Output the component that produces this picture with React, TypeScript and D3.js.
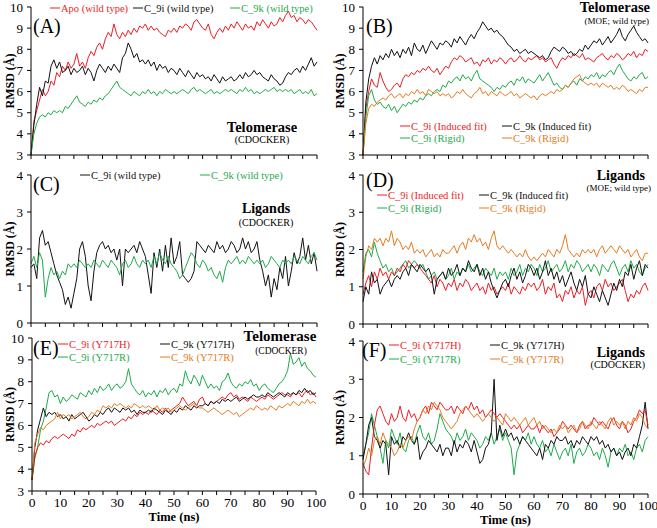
import * as d3 from 'd3';

// time axis, 1 ns sampling
const TIME_NS = d3.range(0, 101);

const RED = '#ee1c24';
const BLACK = '#111111';
const GREEN = '#1faa4c';
const ORANGE = '#e57c22';

// ---- (A) telomerase, CDOCKER, wild type ----
const A_APO = [
  3.0, 4.6, 5.1, 5.6, 6.1, 5.8, 6.0, 6.5, 6.3, 6.9,
  6.7, 7.2, 7.0, 7.4, 7.1, 7.3, 7.8, 7.2, 7.4, 7.1,
  7.6, 7.9, 7.7, 8.1, 8.3, 8.0, 8.5, 8.8, 8.6, 9.2,
  8.7, 8.5, 8.8, 8.6, 8.9, 8.7, 9.0, 8.8, 9.1, 9.0,
  9.2, 8.9, 9.1, 8.9, 9.0, 8.8, 8.7, 8.6, 8.9, 8.8,
  9.0, 8.8, 9.1, 9.0, 9.2, 9.1, 8.9, 9.3, 9.4, 9.2,
  9.0, 8.9, 9.2, 8.7, 8.5, 8.8, 9.0, 8.8, 9.1, 8.9,
  9.2, 9.0, 9.3, 9.1, 8.9, 9.2, 9.0, 9.1, 8.9, 9.3,
  9.1, 9.4, 9.2, 9.0, 9.3, 9.1, 9.2, 9.5, 9.3, 9.6,
  9.8, 9.5, 9.6, 9.3, 9.5, 9.4, 9.2, 9.4, 9.3, 9.1,
  8.9,
];
const A_9I = [
  3.0, 4.4, 5.4, 6.2, 5.8, 6.5, 6.4, 7.2, 7.5, 7.1,
  7.4, 6.9, 7.0, 7.2, 6.8, 7.1, 6.9, 7.0, 7.2, 6.8,
  7.1, 6.9, 6.5, 7.0, 7.3, 7.1, 6.9, 7.2, 7.0, 7.3,
  7.1, 6.9, 7.6, 7.8, 8.3, 8.0, 7.6, 7.8, 7.4, 7.5,
  7.3, 7.5, 7.2, 7.4, 7.0, 7.3, 7.1, 7.2, 6.9, 7.1,
  7.0, 6.8, 7.1, 6.9, 6.7, 7.0, 6.8, 6.6, 6.9, 6.7,
  6.8, 6.6, 6.7, 6.5, 6.8, 6.6, 6.4, 6.7, 6.5, 6.6,
  6.7, 6.5, 6.6, 6.8, 6.6, 6.9, 6.7, 6.8, 7.0, 6.8,
  6.9, 6.7, 6.6, 6.5, 6.8, 6.6, 6.5, 6.3, 6.4, 6.7,
  6.9, 6.8, 7.0, 7.1, 6.9, 7.2, 7.0, 7.3, 7.6, 7.2,
  7.4,
];
const A_9K = [
  3.0, 4.0, 4.5, 4.8, 4.9, 4.8, 5.0, 4.9, 5.1, 5.0,
  5.1, 5.0, 5.3, 5.2, 5.4, 5.6, 5.8, 5.5, 5.4, 5.3,
  5.5, 5.4, 5.6, 5.5, 5.7, 5.6, 5.8, 5.9, 6.1, 6.3,
  6.5, 6.2, 6.1, 6.0, 5.9, 5.8, 6.0, 5.9, 5.8, 6.0,
  5.9, 6.1, 5.9, 6.0, 5.8, 6.0, 5.9, 6.1, 6.0, 5.9,
  6.0, 5.9, 6.0, 6.1, 6.0, 5.9, 6.1, 6.2, 6.0, 6.1,
  6.0, 5.9, 6.0, 6.1, 5.9, 6.0, 5.9, 6.0, 6.1, 6.0,
  6.1, 6.0, 5.9, 6.1, 6.0, 6.2, 6.0, 6.1, 5.9, 6.0,
  5.9, 6.0, 6.1, 6.0, 6.1, 6.2, 6.0, 6.1, 6.0, 6.1,
  6.0, 6.1, 5.9, 6.0, 6.1, 5.9, 6.0, 5.9, 6.1, 5.8,
  5.9,
];

// ---- (B) telomerase, MOE, wild type ----
const B_9I_IF = [
  3.0, 5.2, 6.0, 6.6, 6.3, 6.2, 6.9, 6.5, 6.2, 6.0,
  6.1, 6.3, 6.4, 6.2, 6.6, 6.8, 6.7, 6.9, 6.8, 7.0,
  6.9, 7.1, 7.0, 7.2, 7.0, 6.9, 7.1, 6.8, 7.0, 7.2,
  7.1, 7.4, 7.6, 7.5, 7.7, 7.6, 7.4, 7.5, 7.6, 7.3,
  7.4, 7.2, 7.5, 7.4, 7.6, 7.3, 7.5, 7.4, 7.6, 7.5,
  7.3, 7.5, 7.6, 7.4, 7.5, 7.7, 7.5, 7.4, 7.6, 7.5,
  7.6, 7.7, 7.5, 7.6, 7.4, 7.5, 7.6, 7.3, 7.1, 7.4,
  7.6, 7.5, 7.7, 7.6, 7.8, 7.7, 7.6, 7.8, 7.5, 7.6,
  7.5, 7.4, 7.6, 7.7, 7.8, 7.6, 7.5, 7.7, 7.6, 7.8,
  7.7, 7.5, 7.6, 7.8, 7.7, 7.9, 7.6, 7.8, 7.7, 8.0,
  7.9,
];
const B_9K_IF = [
  3.0, 5.5, 6.6, 7.2, 7.6, 7.3, 7.7, 7.5, 7.8, 7.6,
  8.0, 7.7, 7.9, 7.6, 8.0, 7.8, 8.1, 7.7, 8.3, 8.0,
  7.9, 8.2, 7.8, 8.1, 8.4, 8.2, 8.0, 8.3, 8.2, 8.4,
  8.3, 8.1, 8.5, 8.3, 8.6, 8.4, 8.2, 8.5, 8.7, 8.5,
  8.8, 9.0, 9.3, 9.1, 8.9, 9.0, 8.8, 8.9, 8.7, 8.6,
  8.4, 8.2, 8.1, 7.9, 8.0, 7.8, 7.9, 8.0, 7.8, 7.9,
  7.8, 7.7, 7.6, 7.7, 7.5, 7.6, 7.9, 8.1, 8.0, 7.9,
  8.1, 8.0, 7.8, 7.9, 7.7, 7.8, 8.0, 7.9, 8.2, 8.0,
  8.2, 8.4, 8.3, 8.5, 8.2, 8.4, 8.6, 8.3, 8.5, 8.7,
  9.0, 8.6, 8.4, 8.7, 8.9, 9.1, 8.8, 8.6, 8.4, 8.5,
  8.3,
];
const B_9I_R = [
  3.0, 4.8, 5.8, 6.1, 5.6, 5.4, 5.5, 5.3, 5.2, 5.4,
  5.1, 5.3, 5.0, 5.2, 5.4, 5.3, 5.5, 5.4, 5.6, 5.5,
  5.7, 5.6, 5.8, 5.9, 5.8, 6.0, 6.1, 6.0, 6.3, 6.2,
  6.5, 6.4, 6.6, 6.7, 6.5, 6.8, 6.6, 6.7, 6.5, 6.8,
  7.0, 6.6, 6.5, 6.4, 6.3, 6.2, 6.0, 6.2, 6.1, 6.3,
  6.2, 6.4, 6.5, 6.3, 6.6, 6.5, 6.7, 6.4, 6.6, 6.5,
  6.4, 6.6, 6.8, 6.5, 6.7, 6.9, 6.6, 6.3, 6.4, 6.2,
  6.1, 6.3, 6.2, 6.4, 6.5, 6.3, 6.6, 6.5, 6.7, 6.6,
  6.8, 6.7, 6.9, 6.6, 6.8, 6.7, 6.9, 7.0, 6.8, 7.1,
  7.3, 7.0, 6.8, 6.6, 6.5, 6.7, 6.6, 6.8, 6.9, 6.6,
  6.7,
];
const B_9K_R = [
  3.0, 4.5, 5.2, 5.4, 5.3, 5.5, 5.6, 5.7, 5.6, 5.8,
  5.9, 5.7, 5.8, 5.9, 5.7, 5.9, 5.8, 6.0, 5.9, 6.1,
  5.9, 6.0, 5.8, 6.1, 6.0, 5.9, 6.0, 5.8, 5.9, 5.8,
  5.9, 5.7, 5.8, 6.0, 5.9, 6.1, 5.9, 5.8, 5.7, 5.9,
  6.0, 6.2, 5.9, 6.0, 5.8, 6.0, 5.9, 5.8, 6.0, 5.9,
  5.8, 5.9, 6.0, 5.8, 5.9, 5.7, 5.8, 5.9, 5.8, 5.7,
  5.8, 5.6, 5.8, 5.9, 5.8, 5.9, 6.0, 5.9, 6.1, 6.0,
  6.1, 6.3, 6.2, 6.4, 6.6, 6.7, 6.8, 6.5, 6.4, 6.3,
  6.4, 6.3, 6.4, 6.2, 6.4, 6.3, 6.2, 6.3, 6.1, 6.2,
  6.1, 6.3, 6.2, 6.0, 6.1, 6.0, 5.9, 6.1, 6.0, 6.2,
  6.2,
];

// ---- (C) ligands, CDOCKER, wild type ----
const C_9I = [
  1.5, 1.6, 1.2, 2.3, 2.5, 2.1, 2.2, 1.9, 1.6, 1.3,
  1.1, 0.9, 0.5, 0.7, 0.4, 0.8, 1.2, 2.0, 2.2, 1.8,
  1.0, 0.6, 1.4, 1.9, 2.1, 2.2, 2.0, 2.1, 1.9, 2.0,
  1.7, 2.0, 1.0, 2.0, 1.9, 2.0, 2.1, 1.9, 2.2, 2.0,
  1.8, 1.3, 0.8, 1.9, 1.5, 2.0, 1.4, 2.1, 1.5, 2.3,
  1.6, 1.8, 2.2, 1.3, 1.2, 1.1, 1.2, 1.4, 2.2, 2.1,
  2.0, 1.9, 2.1, 2.0, 1.9, 2.2, 2.0, 2.1, 1.9, 2.0,
  2.2, 2.1, 1.9, 2.0, 2.3, 2.0, 2.2, 1.9, 2.0, 2.2,
  1.7, 1.4, 1.0, 1.3, 0.7, 1.2, 0.9, 1.5, 1.2, 1.8,
  1.0, 1.4, 1.9, 1.6, 1.8, 2.3, 1.7, 2.1, 1.6, 1.9,
  1.4,
];
const C_9K = [
  1.6, 1.8, 1.5, 1.9, 1.7, 0.7, 1.2, 1.5, 1.3, 1.4,
  1.2, 1.4, 1.3, 1.6, 1.5, 1.6, 1.5, 1.7, 1.6, 1.5,
  1.6, 1.5, 1.7, 1.6, 1.5, 1.7, 1.6, 1.5, 1.7, 1.6,
  1.5, 1.3, 1.6, 1.7, 1.5, 1.6, 1.8, 1.6, 1.5, 1.7,
  1.6, 1.7, 1.5, 1.8, 1.6, 1.9, 1.7, 1.6, 1.8, 1.6,
  1.5, 1.4, 1.2, 1.3, 1.5, 1.7, 1.9, 1.8, 1.6, 1.5,
  1.7, 1.6, 1.4, 1.5, 1.3, 1.2, 1.4, 1.1, 1.5, 1.7,
  1.6, 1.7, 1.8, 1.6, 1.7, 1.6, 1.8, 1.7, 1.6, 1.7,
  1.6, 1.7, 1.5, 1.6, 1.8, 1.7, 1.6, 1.5, 1.7, 1.6,
  1.7, 1.6, 1.8, 1.7, 1.6, 1.8, 1.7, 1.6, 1.8, 1.9,
  1.7,
];

// ---- (D) ligands, MOE, wild type ----
const D_9I_IF = [
  0.8, 1.1, 1.3, 1.0, 1.4, 1.2, 1.5, 1.3, 1.4, 1.2,
  1.4, 1.3, 1.5, 1.4, 1.6, 1.5, 1.7, 1.6, 1.5, 1.6,
  1.5, 1.4, 1.3, 1.2, 1.1, 1.3, 1.0, 1.2, 1.1, 0.9,
  1.1, 1.0, 1.2, 0.9, 1.1, 1.0, 1.2, 1.1, 0.9, 1.0,
  1.1, 0.9, 1.0, 0.8, 1.1, 0.9, 1.0, 0.8, 0.9, 1.0,
  0.9, 1.1, 0.8, 1.0, 0.9, 0.8, 1.0, 0.9, 1.1, 1.0,
  1.1, 0.9, 1.0, 1.2, 0.8, 1.0, 0.9, 1.1, 0.7, 0.8,
  0.6, 0.9, 0.8, 1.0, 0.7, 0.9, 0.8, 1.0, 0.5, 0.8,
  0.9, 0.7, 1.0, 1.1, 0.9, 1.2, 1.0, 1.1, 0.9, 1.0,
  1.1, 1.2, 0.9, 0.6, 0.8, 0.7, 0.9, 0.8, 1.0, 1.1,
  0.9,
];
const D_9K_IF = [
  0.6, 1.0, 0.8, 1.4, 1.1, 1.2, 0.8, 1.0, 1.1, 1.2,
  1.0, 1.2, 1.3, 1.2, 1.4, 1.5, 1.3, 1.6, 1.5, 1.4,
  1.6, 1.5, 1.4, 1.5, 1.3, 0.8, 1.2, 1.3, 1.4, 1.2,
  1.5, 1.3, 1.4, 1.6, 1.3, 1.5, 1.4, 1.7, 1.5, 1.4,
  1.6, 1.3, 1.5, 1.2, 1.4, 1.1, 0.9, 0.7, 0.9, 1.1,
  1.2, 1.0, 1.3, 1.5, 1.2, 1.4, 1.1, 1.3, 1.6, 1.5,
  1.3, 1.5, 1.2, 1.4, 1.7, 1.3, 1.5, 1.2, 1.4, 1.1,
  1.3, 1.0, 1.2, 1.4, 1.1, 0.9, 1.2, 1.0, 1.3, 0.8,
  0.7, 1.0, 0.8, 0.6, 0.9, 0.7, 0.5, 0.8, 1.1, 0.9,
  1.2, 1.0, 1.4, 1.3, 1.6, 1.2, 1.5, 1.7, 1.3, 1.6,
  1.5,
];
const D_9I_R = [
  1.4, 1.9, 2.0, 1.8, 2.2, 1.9, 1.7, 1.5, 1.6, 1.4,
  1.5, 1.3, 1.4, 1.5, 1.6, 1.7, 1.5, 1.6, 1.7, 1.6,
  1.5, 1.6, 1.4, 1.2, 1.3, 1.4, 1.2, 1.3, 1.4, 1.2,
  1.3, 1.5, 1.2, 1.4, 1.3, 1.5, 1.4, 1.6, 1.4, 1.5,
  1.6, 1.4, 1.3, 1.5, 1.4, 1.3, 1.5, 1.2, 1.4, 1.3,
  1.4, 1.2, 1.5, 1.3, 1.4, 1.6, 1.3, 1.5, 1.4, 1.6,
  1.5, 1.3, 1.6, 1.4, 1.5, 1.7, 1.4, 1.5, 1.6, 1.4,
  1.5, 1.7, 1.4, 1.6, 1.5, 1.7, 1.6, 1.4, 1.5, 1.6,
  1.4, 1.6, 1.5, 1.3, 1.6, 1.5, 1.4, 1.6, 1.7, 1.5,
  1.3, 1.5, 1.6, 1.4, 1.7, 1.5, 1.6, 1.4, 1.3, 1.5,
  1.6,
];
const D_9K_R = [
  1.2, 1.8, 2.1, 2.0, 2.3, 2.2, 2.3, 2.1, 2.3, 2.2,
  2.5, 2.1, 2.3, 2.2, 2.0, 2.1, 2.0, 2.2, 1.9, 2.0,
  1.9, 2.0, 1.8, 1.9, 2.0, 1.8, 1.9, 1.8, 2.0, 1.9,
  1.9, 2.0, 2.1, 1.9, 2.1, 2.2, 2.0, 2.3, 2.2, 2.4,
  2.2, 2.3, 2.1, 2.2, 2.0, 2.3, 2.5, 2.1, 2.0, 2.1,
  2.0, 1.9, 2.0, 1.9, 1.8, 1.9, 1.8, 2.0, 1.8, 1.7,
  1.8, 1.7, 1.8, 1.9, 1.8, 2.0, 1.9, 1.8, 2.0, 1.9,
  2.1, 2.4, 2.0, 1.9, 1.8, 1.9, 1.8, 2.0, 1.9, 2.0,
  1.9, 2.0, 1.8, 2.0, 2.1, 1.9, 2.0, 2.1, 2.0, 1.9,
  2.1, 2.0, 1.9, 2.0, 1.8, 1.9, 2.0, 1.8, 1.7, 1.9,
  1.9,
];

// ---- (E) telomerase mutants, CDOCKER ----
const E_9I_H = [
  3.5, 4.6, 5.0, 5.2, 5.1, 5.3, 5.2, 5.4, 5.5, 5.4,
  5.5, 5.6, 5.5, 5.4, 5.6, 5.5, 5.8, 5.7, 5.9, 5.8,
  5.9, 6.0, 5.9, 6.1, 6.0, 6.1, 6.2, 6.1, 6.2, 6.0,
  6.1, 6.2, 6.3, 6.2, 6.4, 6.3, 6.5, 6.4, 6.6, 6.5,
  6.6, 6.5, 6.7, 6.6, 6.5, 6.7, 6.6, 6.8, 6.6, 6.7,
  6.8, 6.9, 7.0, 7.3, 7.1, 6.9, 7.0, 7.1, 6.9, 7.2,
  7.3, 7.0, 6.9, 7.1, 7.0, 7.1, 7.2, 7.3, 7.2, 7.4,
  7.5, 7.3, 7.4, 7.2, 7.3, 7.2, 7.1, 7.3, 7.2, 7.1,
  7.2, 7.3, 7.2, 7.4, 7.3, 7.2, 7.3, 7.4, 7.5, 7.4,
  7.4, 7.3, 7.5, 7.4, 7.5, 7.3, 7.5, 7.6, 7.4, 7.5,
  7.3,
];
const E_9K_H = [
  3.5, 5.0, 5.8, 6.3, 6.8, 6.4, 6.6, 6.5, 6.6, 6.4,
  6.5, 6.3, 6.4, 6.2, 6.5, 6.3, 6.4, 6.5, 6.6, 6.4,
  6.2, 6.3, 6.5, 6.4, 6.6, 6.5, 6.7, 6.8, 6.6, 6.8,
  6.7, 6.6, 6.8, 6.7, 6.8, 6.6, 6.7, 6.5, 6.7, 6.6,
  6.6, 6.7, 6.6, 6.8, 6.7, 6.6, 6.5, 6.7, 6.6, 6.5,
  6.7, 6.6, 6.8, 6.7, 6.9, 6.8, 6.7, 6.9, 6.8, 6.9,
  6.9, 7.0, 6.9, 7.1, 7.0, 7.1, 7.0, 7.2, 7.1, 7.2,
  7.1, 7.2, 7.3, 7.1, 7.2, 7.3, 7.2, 7.3, 7.4, 7.3,
  7.3, 7.4, 7.3, 7.5, 7.4, 7.3, 7.4, 7.5, 7.4, 7.3,
  7.5, 7.4, 7.5, 7.4, 7.6, 7.5, 7.7, 7.5, 7.6, 7.4,
  7.5,
];
const E_9I_R = [
  3.5, 4.5, 5.0, 5.8, 6.2, 6.8, 7.5, 7.6, 7.3, 7.4,
  7.0, 7.3, 7.1, 7.2, 7.4, 7.3, 7.2, 7.5, 7.4, 7.3,
  7.6, 7.4, 7.7, 7.5, 7.8, 7.6, 7.7, 7.9, 7.6, 7.8,
  7.9, 7.7, 7.8, 8.0, 8.6, 7.9, 7.7, 7.5, 7.4, 7.6,
  7.3, 7.5, 7.4, 7.6, 7.3, 7.6, 7.5, 7.7, 7.4, 7.6,
  7.7, 7.5, 7.9, 7.8, 8.5, 8.1, 7.9, 8.3, 8.1, 7.8,
  8.3, 8.0, 7.7, 7.9, 7.7, 7.8, 7.6, 8.0, 8.1, 8.4,
  8.0, 7.8, 7.7, 7.9, 7.8, 8.0, 7.9, 8.1, 7.8, 7.9,
  7.6, 7.8, 7.9, 7.7, 7.6, 7.5, 7.7, 7.9, 8.0, 8.2,
  8.5, 9.3, 8.8, 8.9, 9.1, 8.7, 8.9, 8.6, 8.5, 8.3,
  8.2,
];
const E_9K_R = [
  3.5, 5.2, 5.6, 5.9, 5.8, 6.0, 6.1, 6.2, 6.3, 6.6,
  6.3, 6.5, 6.4, 6.5, 6.3, 6.4, 6.5, 6.6, 6.4, 6.3,
  6.4, 6.6, 6.5, 6.7, 6.6, 6.9, 6.8, 6.9, 6.8, 7.0,
  6.9, 7.0, 6.9, 6.8, 6.9, 6.8, 7.0, 6.9, 6.8, 6.9,
  6.8, 6.9, 6.8, 6.7, 6.9, 6.7, 6.8, 6.7, 6.8, 6.6,
  6.7, 6.8, 6.9, 6.8, 6.7, 6.8, 6.9, 7.0, 6.9, 6.8,
  6.8, 6.7, 6.6, 6.7, 6.8, 6.7, 6.6, 6.5, 6.6, 6.7,
  6.6, 6.5, 6.6, 6.4, 6.5, 6.6, 6.7, 6.8, 6.7, 6.9,
  6.8, 6.7, 6.8, 6.7, 6.9, 6.8, 6.7, 6.9, 6.8, 6.9,
  7.0, 6.9, 7.1, 7.0, 6.9, 7.1, 7.0, 7.2, 7.0, 7.1,
  7.0,
];

// ---- (F) ligands in mutants, CDOCKER ----
const F_9I_H = [
  0.8, 0.6, 0.5, 1.2, 1.8, 2.2, 2.3, 2.1, 1.9, 1.8,
  2.1, 1.9, 2.0, 2.3, 2.0, 1.9, 2.2, 2.0, 2.1, 1.9,
  2.0, 2.2, 2.3, 2.1, 2.4, 2.3, 2.2, 2.4, 2.3, 2.2,
  2.2, 2.3, 2.1, 2.3, 2.2, 2.1, 2.3, 2.2, 2.4, 2.2,
  2.3, 2.1, 2.2, 2.0, 2.1, 2.2, 2.1, 2.0, 2.1, 2.0,
  1.9, 1.8, 1.7, 1.8, 1.7, 1.8, 1.6, 1.7, 1.8, 1.7,
  1.7, 1.8, 1.6, 1.8, 1.7, 1.6, 1.7, 1.5, 1.6, 1.7,
  1.9, 1.8, 1.7, 1.8, 1.7, 1.6, 1.8, 1.9, 1.7, 1.8,
  1.8, 2.0, 1.9, 1.8, 1.9, 1.8, 1.7, 1.9, 2.0, 1.8,
  1.7, 1.9, 1.8, 1.6, 1.7, 1.9, 2.0, 2.2, 2.1, 2.2,
  1.8,
];
const F_9K_H = [
  0.9, 1.3, 1.8, 2.0, 1.5, 1.4, 1.2, 1.4, 1.3, 0.5,
  1.5, 1.3, 1.4, 1.2, 1.5, 1.4, 1.6, 1.4, 1.3, 1.5,
  0.9, 1.1, 1.2, 1.4, 1.3, 1.2, 1.1, 1.3, 1.0, 1.2,
  1.2, 1.0, 1.4, 1.1, 1.3, 1.2, 1.4, 1.3, 1.1, 1.4,
  1.1, 0.8, 0.9, 1.2, 1.3, 1.6, 3.0, 1.4, 1.8, 1.5,
  1.7, 1.5, 1.6, 1.4, 1.5, 1.3, 1.5, 1.4, 1.3, 1.2,
  1.1, 1.0, 1.2, 0.9, 1.3, 1.2, 1.4, 1.3, 1.5, 1.4,
  1.4, 1.5, 1.3, 1.4, 1.2, 1.4, 1.3, 1.5, 1.4, 1.3,
  1.5, 1.4, 1.5, 1.3, 1.4, 1.2, 1.3, 1.1, 1.2, 1.0,
  1.1, 0.9, 1.1, 1.2, 1.0, 1.3, 1.2, 1.5, 1.8, 2.4,
  1.7,
];
const F_9I_R = [
  1.0, 1.3, 1.6, 2.1, 1.8, 1.5, 1.2, 0.8, 1.4, 1.2,
  1.7, 1.5, 1.3, 1.6, 1.2, 1.1, 1.4, 1.5, 1.3, 1.6,
  1.8, 1.5, 1.4, 1.6, 1.3, 1.4, 1.7, 2.1, 1.9, 1.7,
  1.6, 1.5, 1.3, 1.6, 1.4, 1.5, 1.7, 1.4, 1.6, 1.5,
  1.4, 1.2, 1.3, 1.5, 1.4, 1.6, 1.3, 1.5, 1.7, 1.4,
  1.6, 1.4, 1.2, 0.5, 1.1, 1.3, 1.5, 1.4, 1.6, 1.3,
  1.5, 1.3, 1.2, 1.4, 1.1, 1.2, 1.0, 1.3, 1.1, 0.9,
  1.1, 1.2, 1.0, 1.3, 0.8, 1.1, 1.2, 1.0, 1.1, 1.3,
  1.2, 1.0, 1.1, 0.9, 1.2, 1.0, 0.7, 1.1, 1.2, 1.0,
  1.2, 1.1, 1.3, 1.0, 1.1, 0.9, 1.2, 1.3, 1.1, 1.4,
  1.5,
];
const F_9K_R = [
  0.7, 0.9, 1.2, 1.0, 1.4, 1.5, 1.3, 1.6, 1.4, 1.3,
  1.2, 1.0, 1.1, 1.3, 1.2, 1.4, 1.5, 1.4, 1.7, 1.9,
  2.0, 2.2, 2.1, 2.3, 2.2, 2.4, 2.3, 2.2, 2.0, 1.9,
  1.8, 1.7, 1.8, 1.9, 2.1, 2.2, 2.3, 2.2, 2.1, 2.0,
  2.1, 2.0, 1.9, 2.0, 2.1, 2.0, 1.9, 2.0, 1.9, 1.8,
  2.1, 2.0, 1.9, 2.0, 1.9, 1.8, 1.9, 2.0, 1.8, 1.9,
  2.0, 1.8, 1.9, 1.7, 1.8, 1.7, 1.6, 1.7, 1.6, 1.8,
  1.7, 1.8, 1.6, 1.7, 1.8, 1.6, 1.7, 1.9, 1.8, 1.7,
  1.9, 1.8, 1.7, 1.9, 1.8, 1.7, 1.9, 2.0, 1.8, 1.9,
  1.8, 1.9, 1.7, 1.9, 1.8, 2.0, 1.9, 2.1, 2.0, 1.8,
  1.7,
];

const X_TICKS = d3.range(0, 101, 5);
const X_LABELS = d3.range(0, 101, 10);

const FONT = "'Liberation Serif', 'Times New Roman', serif";

type Series = { data: number[]; color: string; label: string; lx: number; ly: number };
type Note = { text: string; x: number; y: number; size: number; bold?: boolean; anchor?: string };
type PanelCfg = {
  left: number; right: number; top: number; bottom: number;
  yDomain: [number, number];
  xLabels: boolean;
  series: Series[];
  notes: Note[];
};

const PANELS: PanelCfg[] = [
  {
    left: 31, right: 317, top: 7, bottom: 155, yDomain: [3, 10], xLabels: false,
    series: [
      { data: A_APO, color: RED, label: 'Apo (wild type)', lx: 50, ly: 8 },
      { data: A_9I, color: BLACK, label: 'C_9i (wild type)', lx: 133, ly: 8 },
      { data: A_9K, color: GREEN, label: 'C_9k (wild type)', lx: 230, ly: 8 },
    ],
    notes: [
      { text: '(A)', x: 33, y: 33, size: 20 },
      { text: 'Telomerase', x: 262, y: 132, size: 14.5, bold: true, anchor: 'middle' },
      { text: '(CDOCKER)', x: 262, y: 143, size: 10, anchor: 'middle' },
    ],
  },
  {
    left: 363, right: 648, top: 7, bottom: 155, yDomain: [3, 10], xLabels: false,
    series: [
      { data: B_9I_IF, color: RED, label: 'C_9i (Induced fit)', lx: 400, ly: 126 },
      { data: B_9K_IF, color: BLACK, label: 'C_9k (Induced fit)', lx: 502, ly: 126 },
      { data: B_9I_R, color: GREEN, label: 'C_9i (Rigid)', lx: 400, ly: 138 },
      { data: B_9K_R, color: ORANGE, label: 'C_9k (Rigid)', lx: 502, ly: 138 },
    ],
    notes: [
      { text: '(B)', x: 366, y: 33, size: 20 },
      { text: 'Telomerase', x: 650, y: 12, size: 14.5, bold: true, anchor: 'end' },
      { text: '(MOE; wild type)', x: 649, y: 24, size: 9, anchor: 'end' },
    ],
  },
  {
    left: 31, right: 317, top: 175, bottom: 323, yDomain: [0, 4], xLabels: false,
    series: [
      { data: C_9I, color: BLACK, label: 'C_9i (wild type)', lx: 80, ly: 175 },
      { data: C_9K, color: GREEN, label: 'C_9k (wild type)', lx: 200, ly: 175 },
    ],
    notes: [
      { text: '(C)', x: 33, y: 191, size: 20 },
      { text: 'Ligands', x: 266, y: 213, size: 14, bold: true, anchor: 'middle' },
      { text: '(CDOCKER)', x: 266, y: 226, size: 10, anchor: 'middle' },
    ],
  },
  {
    left: 363, right: 648, top: 175, bottom: 324, yDomain: [0, 4], xLabels: false,
    series: [
      { data: D_9K_R, color: ORANGE, label: 'C_9k (Rigid)', lx: 479, ly: 208 },
      { data: D_9I_R, color: GREEN, label: 'C_9i (Rigid)', lx: 377, ly: 208 },
      { data: D_9I_IF, color: RED, label: 'C_9i (Induced fit)', lx: 377, ly: 195 },
      { data: D_9K_IF, color: BLACK, label: 'C_9k (Induced fit)', lx: 479, ly: 195 },
    ],
    notes: [
      { text: '(D)', x: 366, y: 187, size: 20 },
      { text: 'Ligands', x: 645, y: 180, size: 14, bold: true, anchor: 'end' },
      { text: '(MOE; wild type)', x: 651, y: 191, size: 9, anchor: 'end' },
    ],
  },
  {
    left: 32, right: 316, top: 338, bottom: 491, yDomain: [3, 10], xLabels: true,
    series: [
      { data: E_9I_R, color: GREEN, label: 'C_9i (Y717R)', lx: 58, ly: 357 },
      { data: E_9I_H, color: RED, label: 'C_9i (Y717H)', lx: 58, ly: 344 },
      { data: E_9K_H, color: BLACK, label: 'C_9k (Y717H)', lx: 160, ly: 344 },
      { data: E_9K_R, color: ORANGE, label: 'C_9k (Y717R)', lx: 160, ly: 357 },
    ],
    notes: [
      { text: '(E)', x: 33, y: 355, size: 20 },
      { text: 'Telomerase', x: 280, y: 341, size: 15, bold: true, anchor: 'middle' },
      { text: '(CDOCKER)', x: 281, y: 353.5, size: 9.5, anchor: 'middle' },
    ],
  },
  {
    left: 363, right: 648, top: 341, bottom: 494, yDomain: [0, 4], xLabels: true,
    series: [
      { data: F_9I_R, color: GREEN, label: 'C_9i (Y717R)', lx: 389, ly: 359 },
      { data: F_9K_H, color: BLACK, label: 'C_9k (Y717H)', lx: 490, ly: 345 },
      { data: F_9I_H, color: RED, label: 'C_9i (Y717H)', lx: 389, ly: 345 },
      { data: F_9K_R, color: ORANGE, label: 'C_9k (Y717R)', lx: 490, ly: 359 },
    ],
    notes: [
      { text: '(F)', x: 362, y: 357, size: 20 },
      { text: 'Ligands', x: 645, y: 357, size: 14, bold: true, anchor: 'end' },
      { text: '(CDOCKER)', x: 645, y: 368, size: 10, anchor: 'end' },
    ],
  },
];

function Panel({ p }: { p: PanelCfg }) {
  const x = d3.scaleLinear().domain([0, 100]).range([p.left, p.right]);
  const y = d3.scaleLinear().domain(p.yDomain).range([p.bottom, p.top]);
  const line = d3
    .line<number>()
    .x((_, i) => x(TIME_NS[i]))
    .y((d) => y(d));
  const yTicks = d3.range(p.yDomain[0], p.yDomain[1] + 1);
  const midY = (p.top + p.bottom) / 2;
  const titleX = p.left < 200 ? 10 : 340;

  return (
    <g>
      {/* series */}
      {p.series.map((s, i) => (
        <path key={i} d={line(s.data) ?? ''} fill="none" stroke={s.color} strokeWidth={1} strokeLinejoin="round" />
      ))}

      {/* axes */}
      <line x1={p.left} x2={p.left} y1={p.top} y2={p.bottom} stroke="#000" />
      <line x1={p.left} x2={p.right} y1={p.bottom} y2={p.bottom} stroke="#000" />
      {yTicks.map((t) => (
        <g key={'y' + t}>
          <line x1={p.left - 4} x2={p.left} y1={y(t)} y2={y(t)} stroke="#000" />
          <text x={p.left - 8} y={y(t) + 4.5} fontSize={13} textAnchor="end" fontFamily={FONT}>
            {t}
          </text>
        </g>
      ))}
      {X_TICKS.map((t) => (
        <line key={'x' + t} x1={x(t)} x2={x(t)} y1={p.bottom} y2={p.bottom + 4} stroke="#000" />
      ))}
      {p.xLabels &&
        X_LABELS.map((t) => (
          <text key={'xl' + t} x={x(t)} y={p.bottom + 16} fontSize={13.5} textAnchor="middle" fontFamily={FONT}>
            {t}
          </text>
        ))}
      {p.xLabels && (
        <text x={(p.left + p.right) / 2} y={p.bottom + 30} fontSize={12.5} fontWeight="bold" textAnchor="middle" fontFamily={FONT}>
          Time (ns)
        </text>
      )}
      <text
        transform={`translate(${titleX},${midY}) rotate(-90)`}
        fontSize={12}
        fontWeight="bold"
        textAnchor="middle"
        dy="0.35em"
        fontFamily={FONT}
      >
        RMSD (Å)
      </text>

      {/* legend */}
      {p.series.map((s, i) => (
        <g key={'lg' + i}>
          <line x1={s.lx} x2={s.lx + 10} y1={s.ly} y2={s.ly} stroke={s.color} strokeWidth={1} />
          <text x={s.lx + 11} y={s.ly + 3.5} fontSize={10.5} fill={s.color} fontFamily={FONT}>
            {s.label}
          </text>
        </g>
      ))}

      {/* notes */}
      {p.notes.map((n, i) => (
        <text
          key={'n' + i}
          x={n.x}
          y={n.y}
          fontSize={n.size}
          fontWeight={n.bold ? 'bold' : 'normal'}
          textAnchor={n.anchor ?? 'start'}
          fontFamily={FONT}
        >
          {n.text}
        </text>
      ))}
    </g>
  );
}

export default function App() {
  return (
    <div style={{ position: 'absolute', left: 0, top: 0, background: '#fff' }}>
      <svg width={657} height={528} viewBox="0 0 657 528" style={{ display: 'block' }}>
        <rect width={657} height={528} fill="#fff" />
        {PANELS.map((p, i) => (
          <Panel key={i} p={p} />
        ))}
      </svg>
    </div>
  );
}
